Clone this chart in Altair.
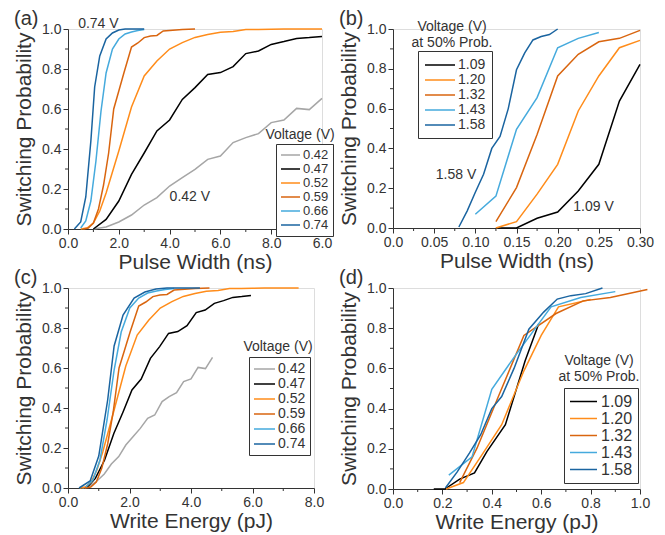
import altair as alt
import pandas as pd

FONT = "Liberation Sans"
INK = "#333333"

# ---------------- colours ----------------
COL_A = ["#a6a6a6", "#000000", "#ff8c1a", "#d9650f", "#45aadd", "#1a64a0"]
COL_B = ["#000000", "#ff8c1a", "#d9650f", "#45aadd", "#1a64a0"]

# ---------------- panel (a): pulse width (ns) ----------------
volts_a = ["0.42", "0.47", "0.52", "0.59", "0.66", "0.74"]
a_t_042 = [1.0, 1.5, 2.0, 2.5, 3.0, 3.5, 4.0, 4.5, 5.0, 5.5, 6.0, 6.5, 7.0, 7.5, 8.0, 8.5, 9.0, 9.5, 10.0]
a_p_042 = [0.0, 0.01, 0.035, 0.07, 0.12, 0.157, 0.215, 0.257, 0.298, 0.348, 0.365, 0.432, 0.457, 0.477, 0.532, 0.545, 0.603, 0.597, 0.653]
a_t_047 = [1.0, 1.5, 2.0, 2.5, 3.0, 3.5, 4.0, 4.5, 5.0, 5.5, 6.0, 6.5, 7.0, 7.5, 8.0, 8.5, 9.0, 9.5, 10.0]
a_p_047 = [0.0, 0.048, 0.14, 0.273, 0.38, 0.49, 0.545, 0.648, 0.707, 0.773, 0.782, 0.812, 0.877, 0.89, 0.923, 0.937, 0.953, 0.957, 0.963]
a_t_052 = [0.5, 0.75, 1.0, 1.25, 1.5, 2.0, 2.5, 3.0, 3.5, 4.0, 4.5, 5.0, 5.5, 6.0, 6.5, 7.0, 7.5, 8.0, 8.5, 9.0, 9.5, 10.0]
a_p_052 = [0.0, 0.005, 0.03, 0.09, 0.18, 0.39, 0.61, 0.765, 0.84, 0.9, 0.932, 0.958, 0.972, 0.984, 0.988, 0.997, 0.997, 0.999, 1.0, 1.0, 1.0, 1.0]
a_t_059 = [0.6, 0.8, 1.0, 1.2, 1.4, 1.6, 1.8, 2.0, 2.2, 2.5, 2.75, 3.0, 3.25, 3.5, 3.75, 4.0, 4.5, 5.0]
a_p_059 = [0.0, 0.005, 0.03, 0.1, 0.22, 0.38, 0.6, 0.69, 0.78, 0.91, 0.93, 0.957, 0.965, 0.968, 0.99, 0.993, 0.998, 1.0]
a_t_066 = [0.5, 0.7, 0.9, 1.1, 1.3, 1.5, 1.75, 2.0, 2.25, 2.5, 2.75, 3.0]
a_p_066 = [0.005, 0.04, 0.14, 0.34, 0.59, 0.78, 0.9, 0.95, 0.975, 0.985, 0.992, 0.998]
a_t_074 = [0.25, 0.5, 0.7, 0.9, 1.05, 1.25, 1.5, 1.75, 2.0, 2.25, 2.5, 2.75, 3.0]
a_p_074 = [0.0, 0.035, 0.16, 0.44, 0.71, 0.865, 0.95, 0.98, 0.995, 1.0, 1.0, 1.0, 1.0]

# ---------------- panel (c): write energy (pJ) ----------------
c_e_042 = [0.47, 0.71, 0.94, 1.18, 1.41, 1.65, 1.88, 2.12, 2.35, 2.59, 2.82, 3.06, 3.29, 3.53, 3.76, 4.0, 4.23, 4.47, 4.7]
c_e_047 = [0.6, 0.89, 1.19, 1.49, 1.79, 2.08, 2.38, 2.68, 2.98, 3.27, 3.57, 3.87, 4.17, 4.46, 4.76, 5.06, 5.36, 5.65, 5.95]
c_e_052 = [0.38, 0.56, 0.75, 0.94, 1.13, 1.5, 1.88, 2.25, 2.63, 3.0, 3.38, 3.75, 4.13, 4.5, 4.88, 5.25, 5.63, 6.0, 6.38, 6.75, 7.13, 7.5]
c_e_059 = [0.55, 0.74, 0.92, 1.1, 1.29, 1.47, 1.66, 1.84, 2.02, 2.3, 2.53, 2.76, 2.99, 3.22, 3.45, 3.68, 4.14, 4.6]
c_e_066 = [0.58, 0.81, 1.04, 1.27, 1.5, 1.73, 2.01, 2.3, 2.59, 2.88, 3.16, 3.45]
c_e_074 = [0.36, 0.72, 1.0, 1.29, 1.5, 1.79, 2.15, 2.5, 2.86, 3.22, 3.58, 3.93, 4.29]

# ---------------- panel (b): pulse width (ns), short pulses ----------------
volts_b = ["1.09", "1.20", "1.32", "1.43", "1.58"]
b_w_109 = [0.125, 0.15, 0.175, 0.2, 0.225, 0.25, 0.275, 0.3]
b_p_109 = [0.0, 0.0, 0.049, 0.08, 0.186, 0.32, 0.638, 0.822]
b_w_120 = [0.125, 0.15, 0.175, 0.2, 0.225, 0.25, 0.275, 0.3]
b_p_120 = [0.0, 0.032, 0.17, 0.32, 0.588, 0.764, 0.906, 0.943]
b_w_132 = [0.125, 0.15, 0.175, 0.2, 0.225, 0.25, 0.275, 0.3]
b_p_132 = [0.032, 0.203, 0.47, 0.764, 0.873, 0.936, 0.953, 0.993]
b_w_143 = [0.1, 0.125, 0.15, 0.175, 0.2, 0.225, 0.25]
b_p_143 = [0.069, 0.16, 0.496, 0.655, 0.906, 0.953, 0.982]
b_w_158 = [0.08, 0.09, 0.1, 0.11, 0.12, 0.13, 0.14, 0.15, 0.16, 0.17, 0.18, 0.19, 0.2]
b_p_158 = [0.005, 0.085, 0.18, 0.27, 0.4, 0.46, 0.6, 0.795, 0.88, 0.945, 0.962, 0.972, 1.0]

# ---------------- panel (d): write energy (pJ), short pulses ----------------
d_e_109 = [0.165, 0.21, 0.27, 0.33, 0.38, 0.455, 0.535, 0.59]
d_e_120 = [0.215, 0.285, 0.36, 0.44, 0.53, 0.6, 0.67, 0.8]
d_e_132 = [0.27, 0.34, 0.43, 0.53, 0.66, 0.77, 0.88, 1.03]
d_e_143 = [0.226, 0.32, 0.4, 0.49, 0.64, 0.76, 0.9]
d_e_158 = [0.212, 0.26, 0.31, 0.355, 0.4, 0.44, 0.49, 0.55, 0.61, 0.665, 0.72, 0.78, 0.848]

# ---------------- axis ticks ----------------
y_major = [0.0, 0.2, 0.4, 0.6, 0.8, 1.0]
y_minor = [0.1, 0.3, 0.5, 0.7, 0.9]
xa_major = [0, 2, 4, 6, 8, 10]
xa_minor = [1, 3, 5, 7, 9]
xb_major = [0.0, 0.05, 0.1, 0.15, 0.2, 0.25, 0.3]
xb_minor = [0.025, 0.075, 0.125, 0.175, 0.225, 0.275]
xc_major = [0, 2, 4, 6, 8]
xc_minor = [1, 3, 5, 7]
xd_major = [0.0, 0.2, 0.4, 0.6, 0.8, 1.0]
xd_minor = [0.1, 0.3, 0.5, 0.7, 0.9]


def frame(volts, xs, ps):
    rows = []
    for v, xl, pl in zip(volts, xs, ps):
        for i, (x, p) in enumerate(zip(xl, pl)):
            rows.append({"V": v, "x": x, "p": p, "i": i})
    return pd.DataFrame(rows)


df_a = frame(volts_a, [a_t_042, a_t_047, a_t_052, a_t_059, a_t_066, a_t_074],
             [a_p_042, a_p_047, a_p_052, a_p_059, a_p_066, a_p_074])
df_c = frame(volts_a, [c_e_042, c_e_047, c_e_052, c_e_059, c_e_066, c_e_074],
             [a_p_042, a_p_047, a_p_052, a_p_059, a_p_066, a_p_074])
df_b = frame(volts_b, [b_w_109, b_w_120, b_w_132, b_w_143, b_w_158],
             [b_p_109, b_p_120, b_p_132, b_p_143, b_p_158])
df_d = frame(volts_b, [d_e_109, d_e_120, d_e_132, d_e_143, d_e_158],
             [b_p_109, b_p_120, b_p_132, b_p_143, b_p_158])

AX = dict(grid=False, domainColor=INK, tickColor=INK, labelColor=INK, titleColor=INK,
          labelFont=FONT, titleFont=FONT, labelFontSize=14, titleFontSize=21,
          titleFontWeight="normal", domainWidth=1, tickWidth=1, tickSize=5, labelPadding=2,
          labelFlush=False, labelOverlap=False)

y_axis = alt.Axis(title="Switching Probability", values=y_major, format=".1f",
                  titlePadding=7, **AX)


def legend(x, y, fs, d, ext, off, rowpad, pad):
    # line symbol: starts at the left of the symbol cell and runs `ext` half-cells right
    return alt.Legend(title=None, orient="none", legendX=x, legendY=y, strokeColor=INK,
                      fillColor="white", padding=pad, symbolType="M-1,0H%g" % ext,
                      symbolSize=d * d, symbolStrokeWidth=1.5, symbolFillColor="transparent",
                      labelFontSize=fs, labelFont=FONT, labelColor=INK,
                      rowPadding=rowpad, labelOffset=off, direction="vertical")


def texts(items, size):
    layers = []
    for txt, x, y in items:
        layers.append(
            alt.Chart(pd.DataFrame({"t": [txt]})).mark_text(
                font=FONT, fontSize=size, color=INK, align="center", baseline="middle"
            ).encode(text="t:N", x=alt.value(x), y=alt.value(y))
        )
    return layers


def panel(df, volts, colors, xdom, xmaj, xmin, xlab, xtitle, w, h, leg, tag, annots, ltitles):
    x_axis = alt.Axis(title=xtitle, values=xmaj, labelExpr=xlab, titlePadding=1, **AX)
    xs = alt.Scale(domain=xdom, nice=False, zero=False)
    ys = alt.Scale(domain=[0, 1], nice=False)
    lines = alt.Chart(df).mark_line(strokeWidth=1.5, clip=False).encode(
        x=alt.X("x:Q", scale=xs, axis=x_axis),
        y=alt.Y("p:Q", scale=ys, axis=y_axis),
        color=alt.Color("V:N", scale=alt.Scale(domain=volts, range=colors), legend=leg),
        order="i:Q",
    )
    xminor = alt.Chart(pd.DataFrame({"x": xmin})).mark_rule(color=INK, strokeWidth=1).encode(
        x=alt.X("x:Q", scale=xs, axis=x_axis), y=alt.value(h), y2=alt.value(h + 3))
    yminor = alt.Chart(pd.DataFrame({"p": y_minor})).mark_rule(color=INK, strokeWidth=1).encode(
        y=alt.Y("p:Q", scale=ys, axis=y_axis), x=alt.value(0), x2=alt.value(-3))
    layers = [lines, xminor, yminor]
    if annots:
        ann = alt.Chart(pd.DataFrame(annots, columns=["label", "x", "p"])).mark_text(
            font=FONT, fontSize=14, color=INK, align="left", baseline="middle"
        ).encode(x=alt.X("x:Q", scale=xs, axis=x_axis), y=alt.Y("p:Q", scale=ys, axis=y_axis),
                 text="label:N")
        layers.append(ann)
    tagl = alt.Chart(pd.DataFrame({"t": [tag]})).mark_text(
        font=FONT, fontSize=20, color=INK, align="left", baseline="top"
    ).encode(text="t:N", x=alt.value(-54), y=alt.value(-20))
    layers = layers + [tagl] + texts(ltitles, 14)
    return alt.layer(*layers).properties(width=w, height=h)


pa = panel(df_a, volts_a, COL_A, [0, 10], xa_major, xa_minor,
           "datum.value==10 ? '6.0' : format(datum.value,'.1f')",
           "Pulse Width (ns)", 254, 200,
           legend(208, 115, 13, 12, 2.17, 9, -1.4, 4), "(a)",
           [["0.74 V", 0.4, 1.025], ["0.42 V", 4.0, 0.16]],
           [["Voltage (V)", 232, 106]])

pb = panel(df_b, volts_b, COL_B, [0, 0.3], xb_major, xb_minor,
           "datum.value==0 ? '0.0' : format(datum.value,'.2f')",
           "Pulse Width (ns)", 247, 199,
           legend(25, 22, 14, 14, 3.29, 18, -0.25, 6), "(b)",
           [["1.58 V", 0.052, 0.266], ["1.09 V", 0.219, 0.105]],
           [["Voltage (V)", 59, -2], ["at 50% Prob.", 59, 13.5]])

pc = panel(df_c, volts_a, COL_A, [0, 8], xc_major, xc_minor,
           "format(datum.value,'.1f')",
           "Write Energy (pJ)", 246, 200,
           legend(181, 69, 14, 14, 2, 9, -0.7, 4), "(c)",
           [],
           [["Voltage (V)", 210, 58.5]])

pd_ = panel(df_d, volts_b, COL_B, [0, 1.0], xd_major, xd_minor,
            "format(datum.value,'.1f')",
            "Write Energy (pJ)", 247, 201,
            legend(171, 100, 16, 15, 2.6, 15, -2, 5), "(d)",
            [],
            [["Voltage (V)", 206, 73], ["at 50% Prob.", 206, 89]])

chart = alt.concat(pa, pb, pc, pd_, columns=2, spacing={"row": 59, "column": 71}, bounds="flush"
                   ).resolve_scale(color="independent").resolve_legend(color="independent"
                   ).properties(padding={"left": 5, "top": 0, "right": 0, "bottom": 0}
                   ).configure_view(stroke=None).configure_axis(labelOverlap=False
                   ).configure(background="white")

chart.save("out.html", embed_options={"renderer": "svg", "actions": False})
